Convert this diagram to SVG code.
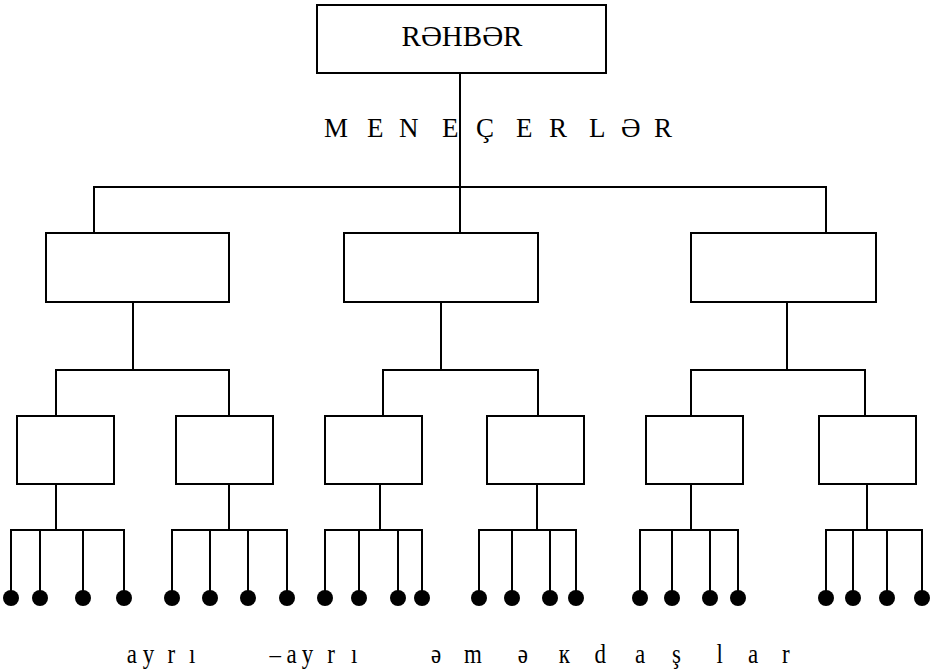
<svg xmlns="http://www.w3.org/2000/svg" width="932" height="672" viewBox="0 0 932 672">
  <style>
    .box { fill: #fff; stroke: #000; stroke-width: 2; }
    .wire { fill: none; stroke: #000; stroke-width: 2; }
    .dot { fill: #000; }
    .serif { font-family: "Liberation Serif", "Times New Roman", serif; fill: #000; }
  </style>
  <rect width="932" height="672" fill="#fff"/>

  <!-- connectors -->
  <g id="connectors" class="wire">
    <!-- head to managers -->
    <path d="M460 73V233M94 233V187H826V233"/>
    <!-- managers to sub-units -->
    <path d="M133 302V370M56 416V370H229V416"/>
    <path d="M441 302V370M383 416V370H538V416"/>
    <path d="M787 302V370M691 416V370H865V416"/>
    <!-- sub-units to staff -->
    <path d="M56 484V530M11 598V530H124V598M40 530V598M83 530V598"/>
    <path d="M229 484V530M172 598V530H287V598M210 530V598M248 530V598"/>
    <path d="M380 484V530M325 598V530H422V598M359 530V598M398 530V598"/>
    <path d="M537 484V530M479 598V530H576V598M512 530V598M550 530V598"/>
    <path d="M691 484V530M640 598V530H738V598M672 530V598M710 530V598"/>
    <path d="M867 484V530M826 598V530H922V598M853 530V598M887 530V598"/>
  </g>

  <!-- head -->
  <g id="head">
    <rect class="box" x="317" y="5" width="289" height="68"/>
    <text class="serif" x="462" y="46" font-size="29" text-anchor="middle">RƏHBƏR</text>
  </g>

  <text id="managers-label" class="serif" font-size="27" y="137"
        x="324 349 367 388 399 425 442 465 476 500 516 537 549 572 589 610 621 643 654">M E N E Ç E R L Ə R</text>

  <!-- managers -->
  <g id="manager-1"><rect class="box" x="46" y="233" width="183" height="69"/></g>
  <g id="manager-2"><rect class="box" x="344" y="233" width="194" height="69"/></g>
  <g id="manager-3"><rect class="box" x="691" y="233" width="185" height="69"/></g>

  <!-- sub-units -->
  <g id="unit-1"><rect class="box" x="17" y="416" width="97" height="68"/></g>
  <g id="unit-2"><rect class="box" x="176" y="416" width="97" height="68"/></g>
  <g id="unit-3"><rect class="box" x="325" y="416" width="97" height="68"/></g>
  <g id="unit-4"><rect class="box" x="487" y="416" width="97" height="68"/></g>
  <g id="unit-5"><rect class="box" x="646" y="416" width="97" height="68"/></g>
  <g id="unit-6"><rect class="box" x="819" y="416" width="97" height="68"/></g>

  <!-- individual staff -->
  <g id="staff" class="dot">
    <circle cx="11" cy="598" r="8"/><circle cx="40" cy="598" r="8"/><circle cx="83" cy="598" r="8"/><circle cx="124" cy="598" r="8"/>
    <circle cx="172" cy="598" r="8"/><circle cx="210" cy="598" r="8"/><circle cx="248" cy="598" r="8"/><circle cx="287" cy="598" r="8"/>
    <circle cx="325" cy="598" r="8"/><circle cx="359" cy="598" r="8"/><circle cx="398" cy="598" r="8"/><circle cx="422" cy="598" r="8"/>
    <circle cx="479" cy="598" r="8"/><circle cx="512" cy="598" r="8"/><circle cx="550" cy="598" r="8"/><circle cx="576" cy="598" r="8"/>
    <circle cx="640" cy="598" r="8"/><circle cx="672" cy="598" r="8"/><circle cx="710" cy="598" r="8"/><circle cx="738" cy="598" r="8"/>
    <circle cx="826" cy="598" r="8"/><circle cx="853" cy="598" r="8"/><circle cx="887" cy="598" r="8"/><circle cx="922" cy="598" r="8"/>
  </g>

  <!-- caption, horizontally condensed (x values are divided by 0.85) -->
  <g id="staff-label" transform="scale(0.85,1)">
    <text class="serif" font-size="27" y="663"
          x="149 158 168 178 197 210 222.5 270 317 337 343 355 370 385 398 413 460 507 520 546 575 609 640 657.5 680 699.5 720 747 770 790.5 815 843 860 880 900 920">a y r ı –a y r ı ə m ə к d a ş l a r</text>
  </g>
</svg>
